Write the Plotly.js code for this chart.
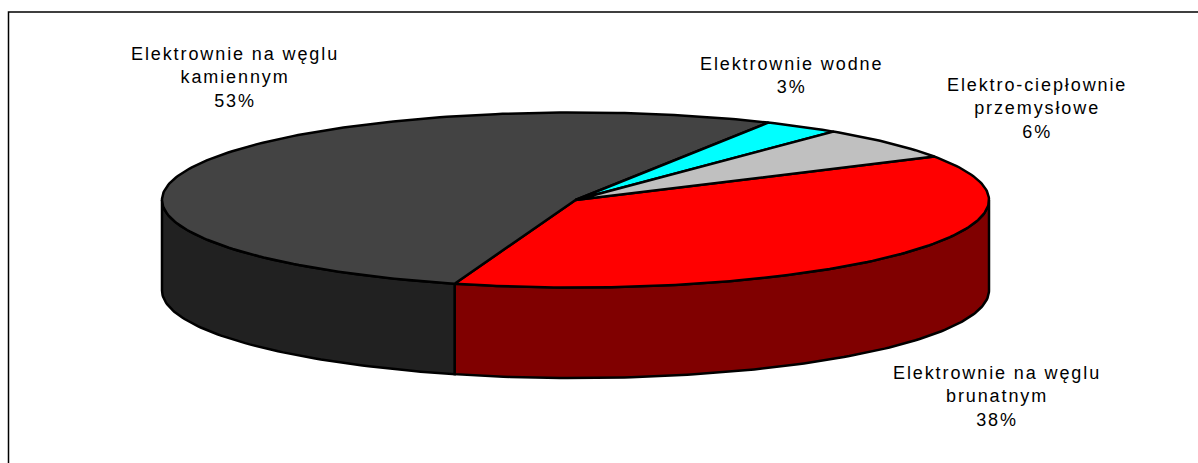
<!DOCTYPE html>
<html>
<head>
<meta charset="utf-8">
<script src="https://cdn.plot.ly/plotly-3.0.1.min.js"></script>
<style>
  html, body { margin: 0; padding: 0; background: #fff; overflow: hidden; }
  #chart { width: 1198px; height: 463px; }
  .annotation-text { letter-spacing: 1.9px; }
</style>
</head>
<body>
<div id="chart"></div>
<script>
// Shares of electricity generation, in drawing order clockwise from the start angle
const categories = ["Elektrownie na węglu brunatnym", "Elektrownie na węglu kamiennym", "Elektrownie wodne", "Elektro-ciepłownie przemysłowe"];
const shares = [38, 53, 3, 6];
const topColors = ["#ff0000", "#434343", "#00ffff", "#c0c0c0"];
const wallColors = ["#800000", "#212121", "#008080", "#606060"];
const labelLines = [
  ["Elektrownie na węglu", "brunatnym"],
  ["Elektrownie na węglu", "kamiennym"],
  ["Elektrownie wodne"],
  ["Elektro-ciepłownie", "przemysłowe"]
];
const labelAnchors = [[997, 396], [234.5, 77], [791, 75], [1037, 108]];

// Projection of the tilted disc onto the page
const cx = 575.5, cy = 200, rx = 413.5, ry = 87.5, depth = 90.5;
const startDeg = 29.8;
const px = t => cx + rx * Math.cos(t * Math.PI / 180);
const py = (t, drop) => cy - ry * Math.sin(t * Math.PI / 180) + (drop || 0);

function arc(from, to, drop) {
  const n = Math.max(2, Math.ceil(Math.abs(to - from)));
  const xs = [], ys = [];
  for (let i = 0; i <= n; i++) {
    const t = from + (to - from) * i / n;
    xs.push(px(t));
    ys.push(py(t, drop));
  }
  return { xs, ys };
}

function polygon(xs, ys, color) {
  return {
    type: "scatter", mode: "lines", x: xs, y: ys, fill: "toself", fillcolor: color,
    line: { color: "#000", width: 2.5 }, hoverinfo: "skip", showlegend: false
  };
}

const walls = [], tops = [];
let angle = startDeg;
shares.forEach((share, i) => {
  const end = angle - share * 3.6;
  const top = arc(angle, end, 0);
  tops.push(polygon([cx, ...top.xs, cx], [cy, ...top.ys, cy], topColors[i]));
  // Only the front half of the rim (sin < 0) shows a wall
  const a = Math.min(angle, 0), b = Math.max(end, -180);
  if (a > b) {
    const upper = arc(a, b, 0), lower = arc(b, a, depth);
    const xs = [...upper.xs, ...lower.xs, upper.xs[0]];
    const ys = [...upper.ys, ...lower.ys, upper.ys[0]];
    walls.push(polygon(xs, ys, wallColors[i]));
  }
  angle = end;
});

const annotations = categories.map((name, i) => ({
  x: labelAnchors[i][0], y: labelAnchors[i][1], xref: "x", yref: "y",
  text: [...labelLines[i], shares[i] + "%"].join("<br>"),
  showarrow: false, align: "center", xanchor: "center", yanchor: "middle",
  font: { family: "Liberation Sans, Arial, sans-serif", size: 18, color: "#000" }
}));

const layout = {
  width: 1198, height: 463,
  margin: { l: 0, r: 0, t: 0, b: 0 },
  paper_bgcolor: "#fff", plot_bgcolor: "#fff",
  showlegend: false,
  xaxis: { range: [0, 1198], visible: false, fixedrange: true },
  yaxis: { range: [463, 0], visible: false, fixedrange: true },
  annotations,
  // Chart frame: only its top and left edges fall inside the page
  shapes: [{ type: "rect", xref: "x", yref: "y", x0: 8.5, y0: 12, x1: 1300, y1: 600, line: { color: "#000", width: 1.5 }, layer: "below" }]
};

Plotly.newPlot("chart", [...walls, ...tops], layout, { displayModeBar: false, staticPlot: true });
</script>
</body>
</html>
